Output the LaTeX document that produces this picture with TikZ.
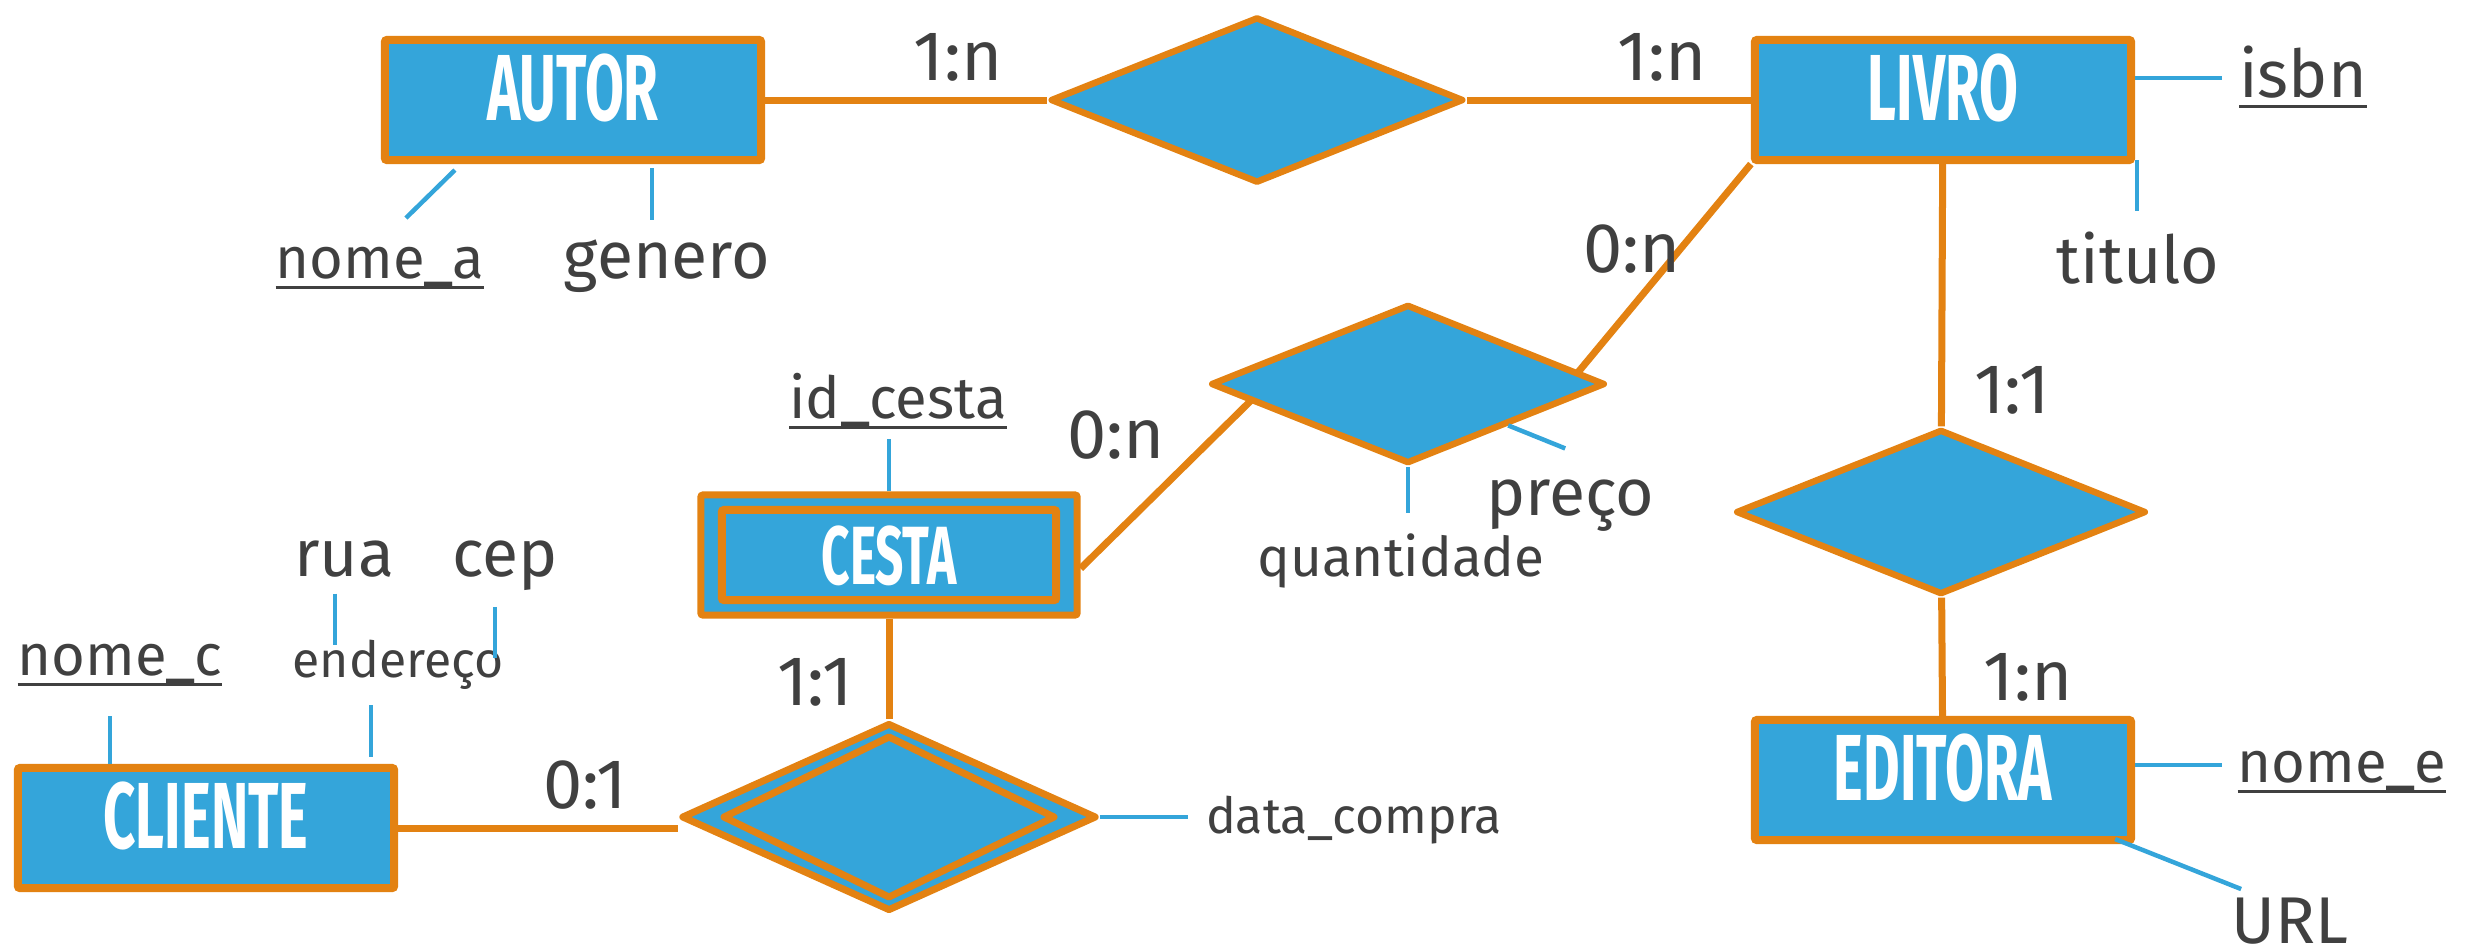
\documentclass[tikz,border=0pt]{standalone}
\usepackage{fontspec}
\setmainfont{Fira Sans}
\newfontfamily\entfont[FakeStretch=0.6]{Fira Sans}
\usepackage{xcolor}
\usepackage{tikz}
\usetikzlibrary{shapes,positioning,calc,backgrounds}

\definecolor{erblue}{RGB}{52,165,218}
\definecolor{erorange}{RGB}{227,130,18}
\definecolor{ergray}{RGB}{64,64,64}

\newcommand{\pk}[1]{\setbox0\hbox{#1}\rlap{\raisebox{-3pt}{\rule{\wd0}{0.85pt}}}\box0}

\begin{document}
\begin{tikzpicture}[
    x=0.01cm, y=-0.01cm,
    entity/.style={rectangle, draw=erorange, fill=erblue, line width=0.08cm, rounded corners=0.02cm, minimum width=3.76cm, minimum height=1.2cm, inner sep=0pt, text depth=0.25cm, text=white, font=\entfont\bfseries\fontsize{26.7}{30}\selectfont},
    weak/.style={entity, line width=0.07cm, text depth=0pt, font=\entfont\bfseries\fontsize{23.5}{26}\selectfont, path picture={\draw[erorange, line width=0.08cm, rounded corners=0.02cm] ($(path picture bounding box.south west)+(21,-15)$) rectangle ($(path picture bounding box.north east)+(-21,15)$);}},
    relation/.style={diamond, draw=erorange, fill=erblue, line width=0.065cm, line join=round, minimum width=4.1cm, minimum height=1.65cm, inner sep=0pt},
    ident/.style={relation, line width=0.07cm, minimum width=4.15cm, minimum height=1.88cm, path picture={\draw[erorange, line width=0.07cm, line join=round] ($(path picture bounding box.center)+(-165,0)$) -- ++(165,-80) -- ++(165,80) -- ++(-165,80) -- cycle;}},
    attr/.style={inner sep=0pt, anchor=base, text=ergray, font=\fontsize{18.8}{22}\selectfont},
    key/.style={attr, font=\fontsize{16.5}{20}\selectfont},
    small/.style={attr, font=\fontsize{14.2}{17}\selectfont},
    card/.style={attr, font=\fontsize{20}{24}\selectfont},
    link/.style={draw=erorange, line width=0.07cm},
    attrlink/.style={draw=erblue, line width=0.045cm}
]
\useasboundingbox (0,0) rectangle (2478,950);

\node[entity] (autor) at (573,100) {AUTOR};
\node[relation, minimum width=4.13cm, minimum height=1.66cm] (r1) at (1257,100) {};
\node[entity] (livro) at (1943,100) {LIVRO};
\node[relation, minimum width=3.94cm, minimum height=1.59cm] (r2) at (1408,384) {};
\node[relation] (r3) at (1941,512) {};
\node[entity] (editora) at (1943,780) {EDITORA};
\node[weak] (cesta) at (889,555) {CESTA};
\node[ident] (r4) at (889,817) {};
\node[entity] (cliente) at (206,828) {CLIENTE};

\node[card] (c1) at (958,80) {1:n};
\node[card] (c2) at (1662,80) {1:n};
\node[card] (c3) at (1632,272) {0:n};
\node[card] (c4) at (1116,458) {0:n};
\node[card] (c5) at (2012,413) {1:1};
\node[card] (c6) at (2028,700) {1:n};
\node[card] (c7) at (815,705) {1:1};
\node[card] (c8) at (585,808) {0:1};

\node[key] (nomea) at (380,278) {\pk{nome\_a}};
\node[attr, base right=0.78cm of nomea] (genero) {genero};
\node[attr] (isbn) at (2303,97) {\pk{isbn}};
\node[attr] (titulo) at (2138,283) {titulo};
\node[key] (idcesta) at (898,418) {\pk{id\_cesta}};
\node[attr] (preco) at (1570,515) {preço};
\node[small, font=\fontsize{15.6}{18}\selectfont] (quant) at (1401,576) {quantidade};
\node[attr] (rua) at (344,576) {rua};
\node[attr, base right=0.57cm of rua] (cep) {cep};
\node[small] (ender) at (398,677) {endereço};
\node[key] (nomec) at (120,675) {\pk{nome\_c}};
\node[small] (dcompra) at (1354,833) {data\_compra};
\node[key] (nomee) at (2342,782) {\pk{nome\_e}};
\node[attr] (url) at (2290,943) {URL};

\begin{scope}[on background layer]
\draw[link] (autor) -- (r1);
\draw[link] (r1) -- (livro);
\draw[link] (livro.south west) -- ($(r2.east)!0.2!(r2.center)$);
\draw[link] (cesta.-4.5) -- ($(r2.west)!0.3!(r2.center)$);
\draw[link] (livro) -- (r3);
\draw[link] (r3) -- (editora);
\draw[link] (cesta) -- (r4);
\draw[link] (cliente.east) -- (cliente.east -| r4.west);
\end{scope}

\draw[attrlink] ($(autor.south west)+(74,6)$) -- ++(-49,48);
\draw[attrlink] ($(autor.south)+(79,4)$) -- ++(0,52);
\draw[attrlink] ($(livro.east)+(0,-22)$) -- ++(87,0);
\draw[attrlink] ($(livro.south east)+(2,-4)$) -- ++(0,51);
\draw[attrlink] (cesta.north) -- ++(0,-52);
\draw[attrlink] (r2.south) -- ++(0,46);
\draw[attrlink] (r2.south east) -- ++(57,23);
\draw[attrlink] ($(cliente.north west)+(96,0)$) -- ++(0,-48);
\draw[attrlink] ($(cliente.north east)+(-27,-7)$) -- ++(0,-52);
\draw[attrlink] ($(rua.south)+(-9,16)$) -- ++(0,51);
\draw[attrlink] ($(cep.south)+(-10,16)$) -- ++(0,51);
\draw[attrlink] (r4.east) -- ++(88,0);
\draw[attrlink] ($(editora.east)+(0,-15)$) -- ++(87,0);
\draw[attrlink] ($(editora.south east)+(-20,-5)$) -- ++(126,50);
\end{tikzpicture}
\end{document}
